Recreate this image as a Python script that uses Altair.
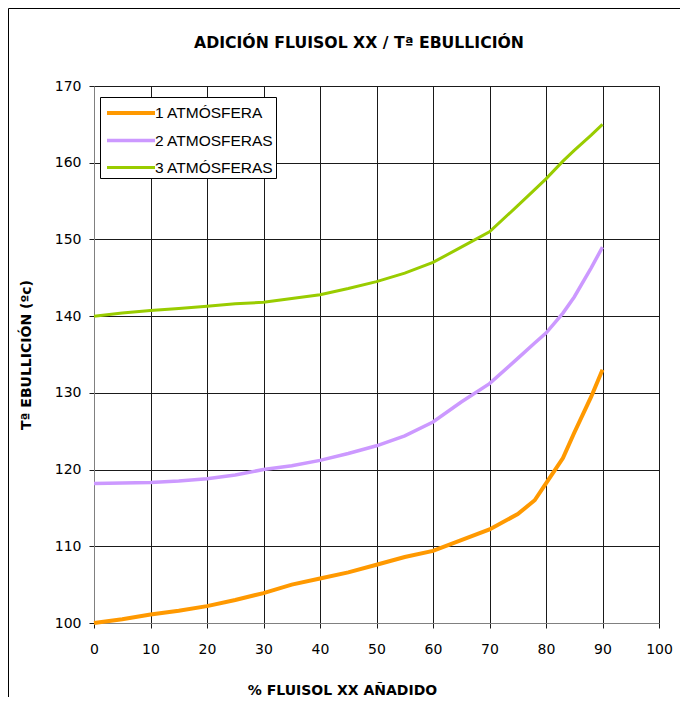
import altair as alt
import pandas as pd

pct = [0, 5, 10, 15, 20, 25, 30, 35, 40, 45, 50, 55, 60, 65, 70, 75, 78, 80, 83, 85, 88, 90]
atm1 = [100.0, 100.5, 101.1, 101.6, 102.2, 103.0, 103.9, 105.0, 105.8, 106.6, 107.6, 108.6,
        109.4, 110.8, 112.2, 114.2, 116.0, 118.2, 121.5, 124.8, 129.5, 133.0]
atm2 = [118.2, 118.25, 118.3, 118.5, 118.8, 119.3, 120.0, 120.5, 121.2, 122.1, 123.1, 124.4,
        126.2, 128.8, 131.2, 134.5, 136.5, 137.8, 140.4, 142.5, 146.3, 149.0]
atm3 = [140.0, 140.4, 140.75, 141.0, 141.3, 141.6, 141.8, 142.3, 142.8, 143.6, 144.5, 145.6,
        147.0, 149.0, 151.0, 154.4, 156.5, 157.9, 160.2, 161.6, 163.6, 165.0]
series = ["1 ATMÓSFERA", "2 ATMOSFERAS", "3 ATMÓSFERAS"]
colors = ["#FF9900", "#CC99FF", "#99CC00"]
widths = [4, 3, 2.5]
x_ticks = list(range(0, 101, 10))
y_ticks = list(range(100, 171, 10))
title_text = "ADICIÓN FLUISOL XX / Tª EBULLICIÓN"

rows = []
for name, vals in zip(series, [atm1, atm2, atm3]):
    for i, (x, y) in enumerate(zip(pct, vals)):
        rows.append({"pct": x, "temp": y, "serie": name, "ord": i})
df = pd.DataFrame(rows)

FONT = "DejaVu Sans"

lines = alt.Chart(df).mark_line().encode(
    x=alt.X("pct:Q", scale=alt.Scale(domain=[0, 100], nice=False),
            axis=alt.Axis(values=x_ticks, title="% FLUISOL XX AÑADIDO")),
    y=alt.Y("temp:Q", scale=alt.Scale(domain=[100, 170], nice=False, zero=False),
            axis=alt.Axis(values=y_ticks, title="Tª EBULLICIÓN (ºc)")),
    color=alt.Color("serie:N", scale=alt.Scale(domain=series, range=colors),
                    legend=alt.Legend(title=None, orient="none", legendX=6, legendY=11)),
    strokeWidth=alt.StrokeWidth("serie:N", scale=alt.Scale(domain=series, range=widths),
                                legend=alt.Legend(title=None, orient="none", legendX=6, legendY=11)),
    order="ord:Q",
)

frame = alt.Chart(pd.DataFrame({"a": [0]})).mark_rect(
    fill=None, stroke="black", strokeWidth=1
).encode(
    x=alt.value(-85.5), y=alt.value(-77.5), x2=alt.value(640), y2=alt.value(700)
)

title = alt.Chart(pd.DataFrame({"t": [title_text]})).mark_text(
    font=FONT, fontSize=15.7, fontWeight="bold", color="black", align="center", baseline="middle"
).encode(
    x=alt.value(265), y=alt.value(-43), text="t:N"
)

chart = alt.layer(frame, title, lines).properties(
    width=565,
    height=537,
    autosize=alt.AutoSizeParams(type="none"),
    padding={"left": 86, "top": 78, "right": 21, "bottom": 74},
).configure_view(
    stroke="#808080", strokeWidth=1
).configure_axis(
    grid=True, gridColor="#1a1a1a", gridOpacity=1, gridWidth=1,
    domainColor="#808080", tickColor="#1a1a1a", tickSize=5,
    labelFont=FONT, labelFontSize=14, labelColor="black", labelFlush=False,
    titleFont=FONT, titleFontSize=14, titleFontWeight="bold", titleColor="black",
).configure_axisX(
    labelPadding=14, titlePadding=27, titleX=248
).configure_axisY(
    labelPadding=8, titlePadding=21
).configure_legend(
    strokeColor="black", fillColor="white", padding=2, symbolType="M-2,0H2",
    symbolSize=576, labelFont="Liberation Sans", labelFontSize=15.5, labelColor="black",
    rowPadding=4.5, symbolOffset=15, labelOffset=10
)

chart.save("out.html", embed_options={"renderer": "svg", "actions": False})
